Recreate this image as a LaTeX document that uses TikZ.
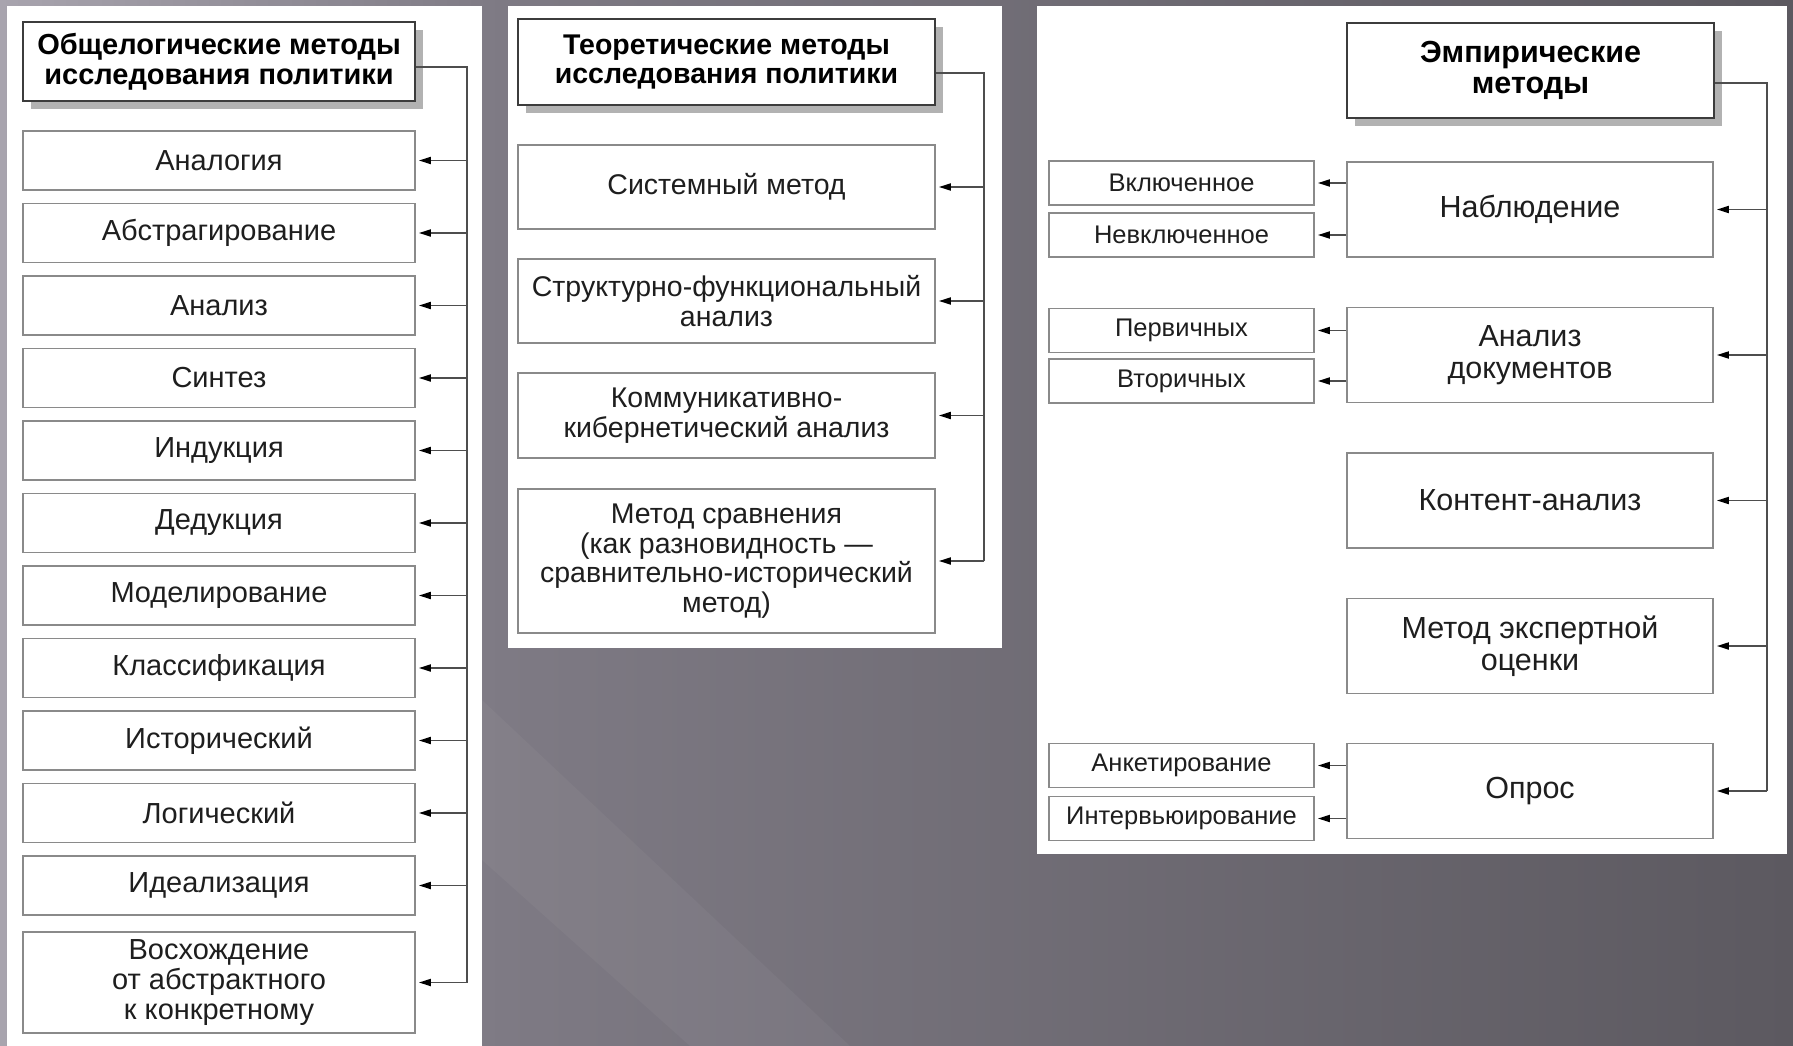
\documentclass[tikz,border=0pt]{standalone}
\usepackage{fontspec}
\setmainfont{Liberation Sans}
\usetikzlibrary{arrows.meta,shadows,calc}
\definecolor{bgL}{HTML}{A8A4AE}
\definecolor{bgM}{HTML}{7E7A84}
\definecolor{bgN}{HTML}{6B6870}
\definecolor{bgR}{HTML}{5C5960}
\definecolor{boxline}{HTML}{8A8A8A}
\definecolor{titleline}{HTML}{3C3C3C}
\definecolor{linec}{HTML}{4E4E4E}
\definecolor{txt}{HTML}{1E1E1E}
\newcommand\fM{\fontsize{28.5}{29.5}\selectfont}
\newcommand\fL{\fontsize{29}{30}\selectfont}
\newcommand\fR{\fontsize{30.5}{31.5}\selectfont}
\newcommand\fS{\fontsize{25.5}{26.5}\selectfont}
\tikzset{
  panel/.style={fill=white,draw=none},
  itembox/.style={draw=boxline,line width=1.7pt,fill=white,inner sep=0pt,align=center,text=txt,font=\fM},
  leftbox/.style={itembox,font=\fL,minimum width=392pt},
  smallbox/.style={itembox,font=\fS,minimum width=265pt,minimum height=44pt},
  bigbox/.style={itembox,font=\fR,minimum width=366pt,minimum height=95pt},
  titlebox/.style={draw=titleline,line width=2.4pt,fill=white,inner sep=0pt,align=center,text=black,
    drop shadow={shadow xshift=8pt,shadow yshift=-8pt,fill=black!30,opacity=1}},
  conn/.style={draw=linec,line width=1.8pt},
  arr/.style={conn,-{Triangle[length=12pt,width=7pt,color=black]},shorten >=3pt}
}
\begin{document}
\begin{tikzpicture}[x=1pt,y=-1pt]
\useasboundingbox (0,0) rectangle (1793,1046);
\shade[left color=bgL,right color=bgM] (0,0) rectangle (500,1046);
\shade[left color=bgM,middle color=bgN,right color=bgR] (500,0) rectangle (1793,1046);
\fill[white,opacity=0.04] (482,700) -- (482,860) -- (690,1046) -- (850,1046) -- cycle;
% panels
\fill[panel] (7,6) rectangle (482,1046);
\fill[panel] (508,6) rectangle (1002,648);
\fill[panel] (1037,6) rectangle (1787,854);

% ---------- left column ----------
\node[titlebox,font=\bfseries\fL,minimum width=392pt,minimum height=79pt] (t1) at (219,61.5)
  {Общелогические методы\\исследования политики};
\foreach \i/\t in {1/Аналогия,2/Абстрагирование,3/Анализ,4/Синтез,5/Индукция,6/Дедукция,
  7/Моделирование,8/Классификация,9/Исторический,10/Логический,11/Идеализация}{
  \pgfmathsetmacro\yy{160.5+72.5*(\i-1)}
  \node[leftbox,minimum height=59pt] (L\i) at (219,\yy) {\t};
}
\node[leftbox,minimum height=101pt] (L12) at (219,982.5)
  {Восхождение\\от абстрактного\\к конкретному};
\coordinate (b1) at (467,67);
\draw[conn] (t1.east |- b1) -- (b1) -- (b1 |- L12.east);
\foreach \i in {1,...,12}{
  \draw[arr] (b1 |- L\i.east) -- (L\i.east);
}

% ---------- middle column ----------
\node[titlebox,font=\bfseries\fM,minimum width=417pt,minimum height=86pt] (t2) at (726.5,62)
  {Теоретические методы\\исследования политики};
\node[itembox,minimum width=417pt,minimum height=84pt] (M1) at (726.5,187) {Системный метод};
\node[itembox,minimum width=417pt,minimum height=84pt] (M2) at (726.5,301)
  {Структурно-функциональный\\анализ};
\node[itembox,minimum width=417pt,minimum height=85pt] (M3) at (726.5,415.5)
  {Коммуникативно-\\кибернетический анализ};
\node[itembox,minimum width=417pt,minimum height=144pt] (M4) at (726.5,561)
  {Метод сравнения\\(как разновидность —\\сравнительно-исторический\\метод)};
\coordinate (b2) at (984,73);
\draw[conn] (t2.east |- b2) -- (b2) -- (b2 |- M4.east);
\foreach \i in {1,...,4}{
  \draw[arr] (b2 |- M\i.east) -- (M\i.east);
}

% ---------- right column ----------
\node[titlebox,font=\bfseries\fR,minimum width=367pt,minimum height=95pt] (t3) at (1530.5,70.5)
  {Эмпирические\\методы};
\node[bigbox] (R1) at (1530,209.5) {Наблюдение};
\node[bigbox] (R2) at (1530,355) {Анализ\\документов};
\node[bigbox] (R3) at (1530,500.5) {Контент-анализ};
\node[bigbox] (R4) at (1530,646) {Метод экспертной\\оценки};
\node[bigbox] (R5) at (1530,791) {Опрос};
\coordinate (b3) at (1767,83);
\draw[conn] (t3.east |- b3) -- (b3) -- (b3 |- R5.east);
\foreach \i in {1,...,5}{
  \draw[arr] (b3 |- R\i.east) -- (R\i.east);
}
\node[smallbox] (S1) at (1181.5,183) {Включенное};
\node[smallbox] (S2) at (1181.5,235) {Невключенное};
\node[smallbox] (S3) at (1181.5,330.5) {Первичных};
\node[smallbox] (S4) at (1181.5,381) {Вторичных};
\node[smallbox] (S5) at (1181.5,765.5) {Анкетирование};
\node[smallbox] (S6) at (1181.5,818.5) {Интервьюирование};
\draw[arr] (R1.west |- S1.east) -- (S1.east);
\draw[arr] (R1.west |- S2.east) -- (S2.east);
\draw[arr] (R2.west |- S3.east) -- (S3.east);
\draw[arr] (R2.west |- S4.east) -- (S4.east);
\draw[arr] (R5.west |- S5.east) -- (S5.east);
\draw[arr] (R5.west |- S6.east) -- (S6.east);
\end{tikzpicture}
\end{document}
